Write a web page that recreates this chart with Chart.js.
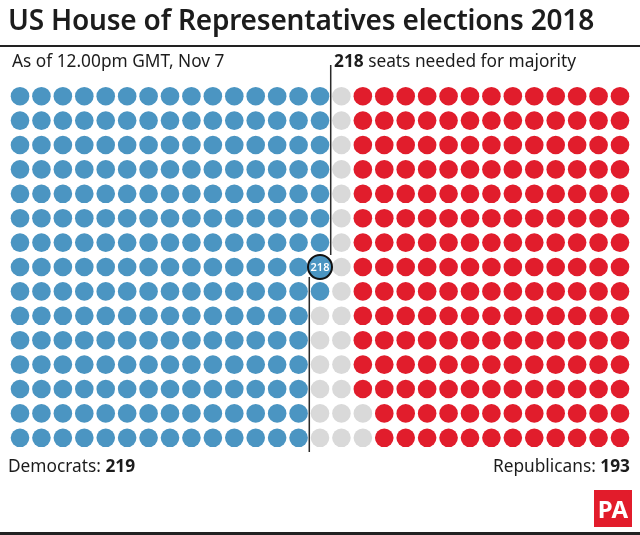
<!DOCTYPE html>
<html>
<head>
<meta charset="utf-8">
<script src="https://cdn.jsdelivr.net/npm/chart.js@4/dist/chart.umd.min.js"></script>
<style>
  body { margin: 0; background: #fff; font-family: "Noto Sans", sans-serif; color: #1c1c1c; }
  #wrap { position: relative; width: 640px; height: 535px; overflow: hidden; }
  #seats { position: absolute; left: 0; top: 0; }
  .t { position: absolute; white-space: nowrap; }
  #title { left: 8px; top: 0px; font-size: 28px; font-weight: 600; letter-spacing: -0.2px; }
  #rule { position: absolute; left: 0; top: 45px; width: 640px; height: 2px; background: #222; }
  #sub { left: 12px; top: 49px; font-size: 17.3px; }
  #need { left: 334px; top: 49px; font-size: 17.3px; }
  #dem { left: 8px; top: 454px; font-size: 17.3px; }
  #rep { right: 10px; top: 454px; font-size: 17.3px; }
  #pa { position: absolute; left: 594px; top: 490px; width: 38px; height: 37px; background: #e21c2b;
        color: #fff; font-family: "Liberation Sans Narrow", "Noto Sans", sans-serif; font-size: 24px;
        font-weight: 700; text-align: center; line-height: 38px; }
  #bar { position: absolute; left: 0; top: 532px; width: 640px; height: 3px; background: #222; }
</style>
</head>
<body>
<div id="wrap">
  <canvas id="seats" width="640" height="535"></canvas>
  <div class="t" id="title">US House of Representatives elections 2018</div>
  <div id="rule"></div>
  <div class="t" id="sub">As of 12.00pm GMT, Nov 7</div>
  <div class="t" id="need"><b>218</b> seats needed for majority</div>
  <div class="t" id="dem">Democrats: <b>219</b></div>
  <div class="t" id="rep">Republicans: <b>193</b></div>
  <div id="pa">PA</div>
  <div id="bar"></div>
</div>
<script>
const parties = ['Democrats', 'Undecided', 'Republicans'];
const seats = [219, 23, 193];
const colours = ['#4b95c2', '#d9d9d9', '#e11d2c'];
const majority = 218;
const totalSeats = 435;
const rows = 15;
const cols = totalSeats / rows;

// seats go column by column, top to bottom; Democrats from the left, Republicans from the right
const points = [[], [], []];
for (let c = 1; c <= cols; c++) {
    for (let r = 1; r <= rows; r++) {
        const fromLeft = (c - 1) * rows + (r - 1);
        const fromRight = (cols - c) * rows + (r - 1);
        let p = 1;
        if (fromLeft < seats[0]) p = 0;
        else if (fromRight < seats[2]) p = 2;
        points[p].push({x: c, y: r});
    }
}

const majorityMark = {
    id: 'majorityMark',
    afterDatasetsDraw(chart) {
        const ctx = chart.ctx;
        const xs = chart.scales.x, ys = chart.scales.y;
        const col = Math.floor((majority - 1) / rows) + 1;
        const row = (majority - 1) % rows + 1;
        const bx = xs.getPixelForValue(col), by = ys.getPixelForValue(row);
        const rad = 12;
        ctx.save();
        ctx.strokeStyle = '#2a2a2a';
        ctx.lineWidth = 1.5;
        ctx.beginPath();
        ctx.moveTo(xs.getPixelForValue(col + 0.5), 65);
        ctx.lineTo(xs.getPixelForValue(col + 0.5), by - rad);
        ctx.moveTo(xs.getPixelForValue(col - 0.5), by + rad - 2);
        ctx.lineTo(xs.getPixelForValue(col - 0.5), ys.getPixelForValue(rows + 0.5) + 2);
        ctx.stroke();
        ctx.beginPath();
        ctx.arc(bx, by, rad, 0, Math.PI * 2);
        ctx.fillStyle = colours[0];
        ctx.fill();
        ctx.lineWidth = 2;
        ctx.strokeStyle = '#111';
        ctx.stroke();
        ctx.fillStyle = '#fff';
        ctx.font = '600 11px "Noto Sans"';
        ctx.textAlign = 'center';
        ctx.textBaseline = 'middle';
        ctx.fillText(String(majority), bx, by + 0.5);
        ctx.restore();
    }
};

new Chart(document.getElementById('seats'), {
    type: 'scatter',
    data: {
        datasets: parties.map((name, i) => ({
            label: name,
            data: points[i],
            backgroundColor: colours[i],
            borderWidth: 0,
            pointRadius: 9.3,
            pointHoverRadius: 9.3
        }))
    },
    options: {
        responsive: false,
        animation: false,
        events: [],
        layout: {padding: {left: 5, right: 7, top: 84, bottom: 85}},
        plugins: {legend: {display: false}, tooltip: {enabled: false}},
        scales: {
            x: {display: false, min: 0.5, max: cols + 0.5},
            y: {display: false, min: 0.5, max: rows + 0.5, reverse: true}
        }
    },
    plugins: [majorityMark]
});
</script>
</body>
</html>
